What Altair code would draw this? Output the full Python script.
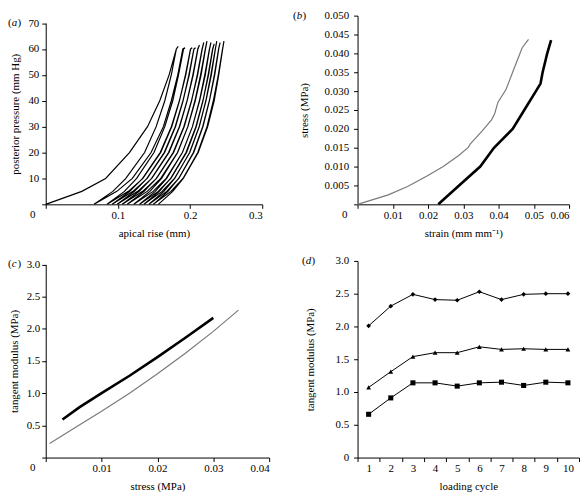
import altair as alt
import pandas as pd

# ---------------- Panel (a): pressure vs apical rise, loading/unloading cycles
A_LEVELS = [0, 5, 10, 20, 30, 40, 50, 60]
A_PEAK_X = [0.1836, 0.193, 0.203, 0.2076, 0.213, 0.219, 0.2234, 0.229, 0.2334, 0.237, 0.2416, 0.247]
A_PEAK_P = [61, 60.5, 60.5, 60.5, 61.5, 62.5, 63, 62.5, 62, 63, 62.5, 63]
A_LOAD = [
    [0.000, 0.050, 0.083, 0.116, 0.141, 0.158, 0.171, 0.181],
    [0.067, 0.0985, 0.120, 0.146, 0.163, 0.174, 0.183, 0.190],
    [0.085, 0.1145, 0.1346, 0.1593, 0.1747, 0.1853, 0.1936, 0.2006],
    [0.092, 0.1209, 0.1406, 0.1648, 0.1799, 0.1903, 0.1984, 0.2053],
    [0.099, 0.1275, 0.1469, 0.1708, 0.1856, 0.1959, 0.2039, 0.2107],
    [0.106, 0.1343, 0.1535, 0.1772, 0.1919, 0.2021, 0.2100, 0.2167],
    [0.113, 0.1406, 0.1594, 0.1826, 0.1969, 0.2068, 0.2146, 0.2212],
    [0.122, 0.1488, 0.1669, 0.1894, 0.2033, 0.2130, 0.2204, 0.2269],
    [0.130, 0.1559, 0.1734, 0.1951, 0.2086, 0.2179, 0.2251, 0.2313],
    [0.136, 0.1613, 0.1784, 0.1996, 0.2128, 0.2219, 0.2289, 0.2350],
    [0.143, 0.1677, 0.1844, 0.2051, 0.2179, 0.2268, 0.2337, 0.2396],
    [0.149, 0.1735, 0.1902, 0.2107, 0.2235, 0.2323, 0.2392, 0.2450],
]
A_UNLOAD = [
    [0.067, 0.093, 0.111, 0.137, 0.153, 0.165, 0.174, 0.181],
    [0.085, 0.109, 0.126, 0.150, 0.165, 0.176, 0.184, 0.191],
    [0.092, 0.1164, 0.1342, 0.1586, 0.1741, 0.1852, 0.1941, 0.2008],
    [0.099, 0.1229, 0.1403, 0.1642, 0.1794, 0.1902, 0.1989, 0.2054],
    [0.106, 0.1295, 0.1467, 0.1702, 0.1852, 0.1959, 0.2044, 0.2109],
    [0.113, 0.1363, 0.1533, 0.1766, 0.1914, 0.2020, 0.2105, 0.2169],
    [0.122, 0.1443, 0.1605, 0.1828, 0.1970, 0.2072, 0.2153, 0.2214],
    [0.130, 0.1518, 0.1676, 0.1894, 0.2033, 0.2132, 0.2211, 0.2270],
    [0.136, 0.1574, 0.1730, 0.1944, 0.2081, 0.2178, 0.2256, 0.2315],
    [0.143, 0.1637, 0.1787, 0.1994, 0.2126, 0.2220, 0.2295, 0.2351],
    [0.149, 0.1694, 0.1842, 0.2046, 0.2175, 0.2268, 0.2342, 0.2397],
    [0.156, 0.1760, 0.1906, 0.2113, 0.2244, 0.2334, 0.2397, 0.2452],
]

# ---------------- Panel (b): stress vs strain
B_GRAY_X = [0, 0.0087, 0.0142, 0.0197, 0.0243, 0.0288, 0.0314, 0.032, 0.0353, 0.038, 0.0389, 0.0398, 0.0421, 0.0444, 0.0467, 0.0485]
B_GRAY_Y = [0, 0.0025, 0.0047, 0.0075, 0.0100, 0.0130, 0.0151, 0.0160, 0.0194, 0.0224, 0.0240, 0.0270, 0.0304, 0.0360, 0.0415, 0.0437]
B_BLACK_X = [0.0229, 0.0288, 0.0348, 0.0387, 0.044, 0.0473, 0.0506, 0.0519, 0.0525, 0.0538, 0.0549]
B_BLACK_Y = [0, 0.005, 0.010, 0.015, 0.020, 0.025, 0.030, 0.032, 0.035, 0.040, 0.0435]

# ---------------- Panel (c): tangent modulus vs stress
C_BLACK_X = [0.003, 0.006, 0.01, 0.015, 0.02, 0.025, 0.03]
C_BLACK_Y = [0.59, 0.78, 1.0, 1.27, 1.56, 1.86, 2.17]
C_GRAY_X = [0.0007, 0.005, 0.01, 0.015, 0.02, 0.025, 0.03, 0.0345]
C_GRAY_Y = [0.22, 0.45, 0.72, 1.0, 1.3, 1.62, 1.96, 2.29]

# ---------------- Panel (d): tangent modulus vs loading cycle
D_CYCLE = [1, 2, 3, 4, 5, 6, 7, 8, 9, 10]
D_DIAMOND = [2.01, 2.31, 2.49, 2.41, 2.40, 2.53, 2.41, 2.49, 2.50, 2.50]
D_TRIANGLE = [1.07, 1.31, 1.54, 1.60, 1.60, 1.69, 1.65, 1.66, 1.65, 1.65]
D_SQUARE = [0.66, 0.91, 1.14, 1.14, 1.09, 1.14, 1.15, 1.10, 1.15, 1.14]

FONT = "Liberation Serif"
FS = 11

# build panel (a) table
rows = []
o = 0
for i in range(len(A_PEAK_X)):
    for j, p in enumerate(A_LEVELS):
        rows.append({"x": A_LOAD[i][j], "y": p, "o": o}); o += 1
    rows.append({"x": A_PEAK_X[i], "y": A_PEAK_P[i], "o": o}); o += 1
    for j in range(len(A_LEVELS) - 1, -1, -1):
        rows.append({"x": A_UNLOAD[i][j], "y": A_LEVELS[j], "o": o}); o += 1
dfa = pd.DataFrame(rows)


def txt(s, x, y, italic=False, align="left", baseline="middle"):
    return alt.Chart(pd.DataFrame({"t": [s]})).mark_text(
        font=FONT, fontSize=FS, fontStyle="italic" if italic else "normal",
        align=align, baseline=baseline, color="black"
    ).encode(text="t:N", x=alt.value(x), y=alt.value(y))


def corner_zero(h):
    return txt("0", -13, h + 5, align="center", baseline="top")


def panel_label(letter, dx, dy=0):
    return [txt("(", dx, dy), txt(letter, dx + 3.8, dy, italic=True), txt(")", dx + 9.6, dy)]


hide0 = "datum.value == 0 ? '' : "
XAX = dict(labelPadding=1, titlePadding=7)

ROW1_H = 190   # panels (a) and (b)
ROW2_H = 198   # panels (c) and (d)
A_TOP = 7.5    # panel (a) plot starts lower than (b)
C_TOP = 3.5    # panel (c) plot starts lower than (d)

# ---- (a)
WA = 218
xa = alt.X("x:Q", scale=alt.Scale(domain=[0, 0.3]),
           axis=alt.Axis(values=[0, 0.1, 0.2, 0.3], labelExpr=hide0 + "format(datum.value, '.1f')",
                         title="apical rise (mm)", **XAX))
ya = alt.Y("y:Q", scale=alt.Scale(domain=[0, 70], range=[ROW1_H, A_TOP]),
           axis=alt.Axis(values=[0, 10, 20, 30, 40, 50, 60, 70], labelExpr=hide0 + "datum.label",
                         title="posterior pressure (mm Hg)", labelPadding=3, titlePadding=7))
la = alt.Chart(dfa).mark_line(color="black", strokeWidth=1.2).encode(x=xa, y=ya, order="o:Q")
chart_a = alt.layer(la, corner_zero(ROW1_H), *panel_label("a", -38, A_TOP)).properties(width=WA, height=ROW1_H)

# ---- (b)
WB = 213
dfb = pd.concat([
    pd.DataFrame({"x": B_GRAY_X, "y": B_GRAY_Y, "s": "gray"}),
    pd.DataFrame({"x": B_BLACK_X, "y": B_BLACK_Y, "s": "black"}),
])
xb = alt.X("x:Q", scale=alt.Scale(domain=[0, 0.06]),
           axis=alt.Axis(values=[0, 0.01, 0.02, 0.03, 0.04, 0.05, 0.06],
                         labelExpr=hide0 + "format(datum.value, '.2f')",
                         title="strain (mm mm\u207b\u00b9)", **XAX))
yb = alt.Y("y:Q", scale=alt.Scale(domain=[0, 0.05]),
           axis=alt.Axis(values=[0, 0.005, 0.01, 0.015, 0.02, 0.025, 0.03, 0.035, 0.04, 0.045, 0.05],
                         labelExpr=hide0 + "format(datum.value, '.3f')", title="stress (MPa)",
                         labelPadding=5, titlePadding=15))
lb_gray = alt.Chart(dfb).transform_filter("datum.s == 'gray'").mark_line(
    color="#7a7a7a", strokeWidth=1.2).encode(x=xb, y=yb)
lb_black = alt.Chart(dfb).transform_filter("datum.s == 'black'").mark_line(
    color="black", strokeWidth=2.6).encode(x=xb, y=yb)
chart_b = alt.layer(lb_gray, lb_black, corner_zero(ROW1_H), *panel_label("b", -65)).properties(width=WB, height=ROW1_H)

# ---- (c)
WC = 225
dfc = pd.concat([
    pd.DataFrame({"x": C_GRAY_X, "y": C_GRAY_Y, "s": "gray"}),
    pd.DataFrame({"x": C_BLACK_X, "y": C_BLACK_Y, "s": "black"}),
])
xc = alt.X("x:Q", scale=alt.Scale(domain=[0, 0.04]),
           axis=alt.Axis(values=[0, 0.01, 0.02, 0.03, 0.04],
                         labelExpr=hide0 + "format(datum.value, '.2f')", title="stress (MPa)", **XAX))
yc = alt.Y("y:Q", scale=alt.Scale(domain=[0, 3], range=[ROW2_H, C_TOP]),
           axis=alt.Axis(values=[0, 0.5, 1, 1.5, 2, 2.5, 3],
                         labelExpr=hide0 + "format(datum.value, '.1f')", title="tangent modulus (MPa)",
                         labelPadding=2, titlePadding=7))
lc_gray = alt.Chart(dfc).transform_filter("datum.s == 'gray'").mark_line(
    color="#7a7a7a", strokeWidth=1.2).encode(x=xc, y=yc)
lc_black = alt.Chart(dfc).transform_filter("datum.s == 'black'").mark_line(
    color="black", strokeWidth=2.6).encode(x=xc, y=yc)
chart_c = alt.layer(lc_gray, lc_black, corner_zero(ROW2_H), *panel_label("c", -38, C_TOP)).properties(width=WC, height=ROW2_H)

# ---- (d)
WD = 223
dfd = pd.concat([
    pd.DataFrame({"c": D_CYCLE, "v": D_DIAMOND, "s": "diamond"}),
    pd.DataFrame({"c": D_CYCLE, "v": D_TRIANGLE, "s": "triangle-up"}),
    pd.DataFrame({"c": D_CYCLE, "v": D_SQUARE, "s": "square"}),
])
xd = alt.X("c:O", bandPosition=0.5,
           scale=alt.Scale(type="band", paddingInner=0, paddingOuter=0),
           axis=alt.Axis(labelAngle=0, tickBand="extent", title="loading cycle", **XAX))
yd = alt.Y("v:Q", scale=alt.Scale(domain=[0, 3]),
           axis=alt.Axis(values=[0, 0.5, 1, 1.5, 2, 2.5, 3],
                         labelExpr="datum.value == 0 ? '0' : format(datum.value, '.1f')",
                         title="tangent modulus (MPa)", labelPadding=5, titlePadding=20))
ld = alt.Chart(dfd).mark_line(color="black", strokeWidth=1).encode(x=xd, y=yd, detail="s:N")
pd_ = alt.Chart(dfd).mark_point(filled=True, color="black", opacity=1).encode(
    x=xd, y=yd,
    shape=alt.Shape("s:N", scale=alt.Scale(domain=["diamond", "triangle-up", "square"],
                                           range=["diamond", "triangle-up", "square"]), legend=None),
    size=alt.Size("s:N", scale=alt.Scale(domain=["diamond", "triangle-up", "square"],
                                         range=[22, 26, 30]), legend=None))
chart_d = alt.layer(ld, pd_, *panel_label("d", -56)).properties(width=WD, height=ROW2_H)

chart = alt.concat(chart_a, chart_b, chart_c, chart_d, columns=2,
                   spacing={"row": 17, "column": 23}).configure(
    font=FONT,
    padding={"left": 0, "top": 0, "right": 0, "bottom": 0},
).configure_view(stroke=None).configure_axis(
    grid=False, domainColor="black", tickColor="black", labelColor="black", titleColor="black",
    labelFont=FONT, titleFont=FONT, labelFontSize=FS, titleFontSize=FS, titleFontWeight="normal",
    tickSize=4, domainWidth=1, tickWidth=1,
)

chart.save("out.html", embed_options={"renderer": "svg", "actions": False})
